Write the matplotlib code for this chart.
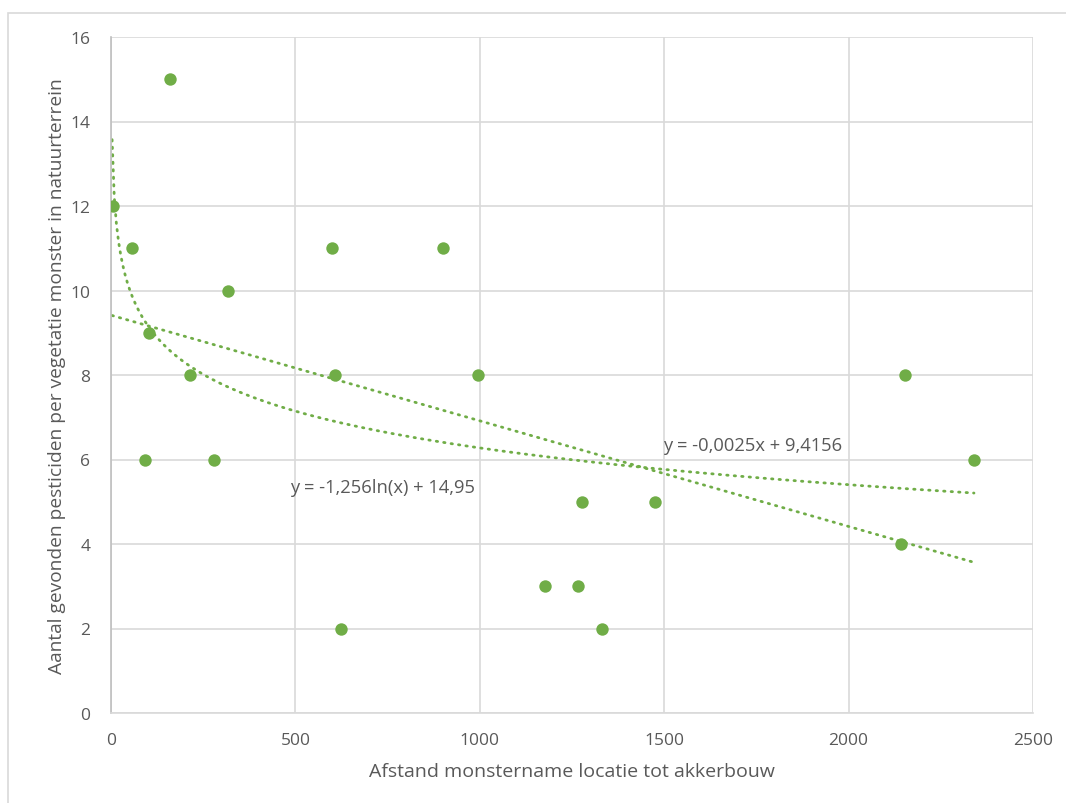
import numpy as np
import matplotlib
matplotlib.use("Agg")
import matplotlib.pyplot as plt
from matplotlib.patches import Rectangle

# Data
afstand = [5, 57, 160, 103, 214, 92, 279, 317, 599, 607, 624, 900, 995,
           1177, 1266, 1277, 1331, 1475, 2153, 2142, 2340]
aantal = [12, 11, 15, 9, 8, 6, 6, 10, 11, 8, 2, 11, 8,
          3, 3, 5, 2, 5, 8, 4, 6]

# Trendline coefficients (as shown on the chart)
lin_slope, lin_intercept = -0.0025, 9.4156
log_coef, log_intercept = -1.256, 14.95
trend_xmin, trend_xmax = 3, 2340

x_ticks = [0, 500, 1000, 1500, 2000, 2500]
y_ticks = [0, 2, 4, 6, 8, 10, 12, 14, 16]

green = "#70ad47"
grid = "#d9d9d9"
txt = "#595959"

plt.rcParams['font.family'] = ['Open Sans', 'DejaVu Sans']

fig = plt.figure(figsize=(10.66, 8.04), dpi=100)
fig.patches.append(Rectangle((8/1066, -0.1), 1.2, 1 - 14/804 + 0.1,
                             transform=fig.transFigure, fill=False,
                             edgecolor=grid, linewidth=1.2))
ax = fig.add_axes([111/1066, 1 - 714/804, (1033-111)/1066, (714-38)/804])

ax.set_xlim(0, 2500)
ax.set_ylim(0, 16)
ax.set_xticks(x_ticks)
ax.set_yticks(y_ticks)
ax.grid(True, color=grid, linewidth=1.2, zorder=0)
ax.set_axisbelow(True)
for s in ['top', 'right']:
    ax.spines[s].set_visible(False)
ax.spines['left'].set_color('#bfbfbf')
ax.spines['left'].set_linewidth(1.2)
ax.spines['bottom'].set_color(grid)
ax.spines['bottom'].set_linewidth(1.2)
ax.tick_params(length=0, labelsize=12.5, labelcolor=txt)
ax.tick_params(axis='x', pad=13.5)
ax.tick_params(axis='y', pad=15)

ax.scatter(afstand, aantal, s=80, color=green, zorder=3, linewidths=0)

xt = np.linspace(trend_xmin, trend_xmax, 400)
ax.plot(xt, lin_slope * xt + lin_intercept, color=green, lw=2,
        linestyle=(0, (0.5, 2.2)), dash_capstyle='round', zorder=2)
ax.plot(xt, log_coef * np.log(xt) + log_intercept, color=green, lw=2,
        linestyle=(0, (0.5, 2.2)), dash_capstyle='round', zorder=2)

ax.text(1498, 6.34, "y = -0,0025x + 9,4156", fontsize=13.2, color=txt, ha='left', va='center')
ax.text(485, 5.35, "y = -1,256ln(x) + 14,95", fontsize=13.2, color=txt, ha='left', va='center')

ax.set_xlabel("Afstand monstername locatie tot akkerbouw", fontsize=14, color=txt, labelpad=10)
ax.set_ylabel("Aantal gevonden pesticiden per vegetatie monster in natuurterrein",
              fontsize=13.8, color=txt, labelpad=3)

fig.savefig("out.png", dpi=100)
